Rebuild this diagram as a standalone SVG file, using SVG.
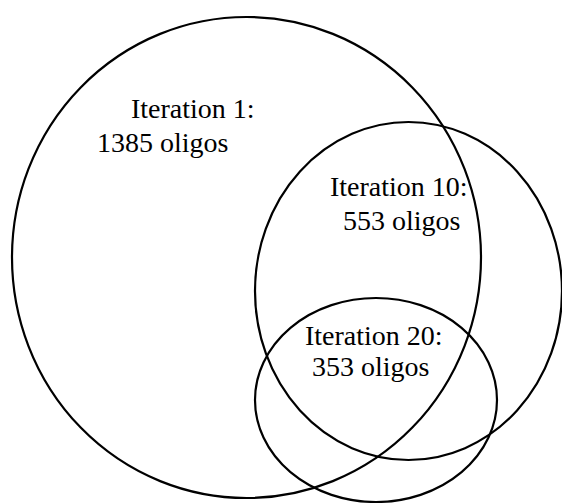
<svg xmlns="http://www.w3.org/2000/svg" width="562" height="503" viewBox="0 0 562 503">
<style>
.set{fill:none;stroke:#000;stroke-width:2.2}
</style>
<rect width="562" height="503" fill="#fff"/>
<g font-family="'Liberation Serif', 'Times New Roman', serif" font-size="28" fill="#000">
<g id="iter1">
<ellipse class="set" cx="246.5" cy="257.5" rx="234.5" ry="240.5"/>
<text x="131" y="118">Iteration 1:</text>
<text x="97" y="152">1385 oligos</text>
</g>
<g id="iter10">
<ellipse class="set" cx="408.5" cy="291" rx="153.5" ry="169"/>
<text x="330" y="196">Iteration 10:</text>
<text x="343" y="230">553 oligos</text>
</g>
<g id="iter20">
<ellipse class="set" cx="376" cy="400" rx="121" ry="102"/>
<text x="305" y="345">Iteration 20:</text>
<text x="312" y="376">353 oligos</text>
</g>
</g>
<g id="connectors"></g>
</svg>
